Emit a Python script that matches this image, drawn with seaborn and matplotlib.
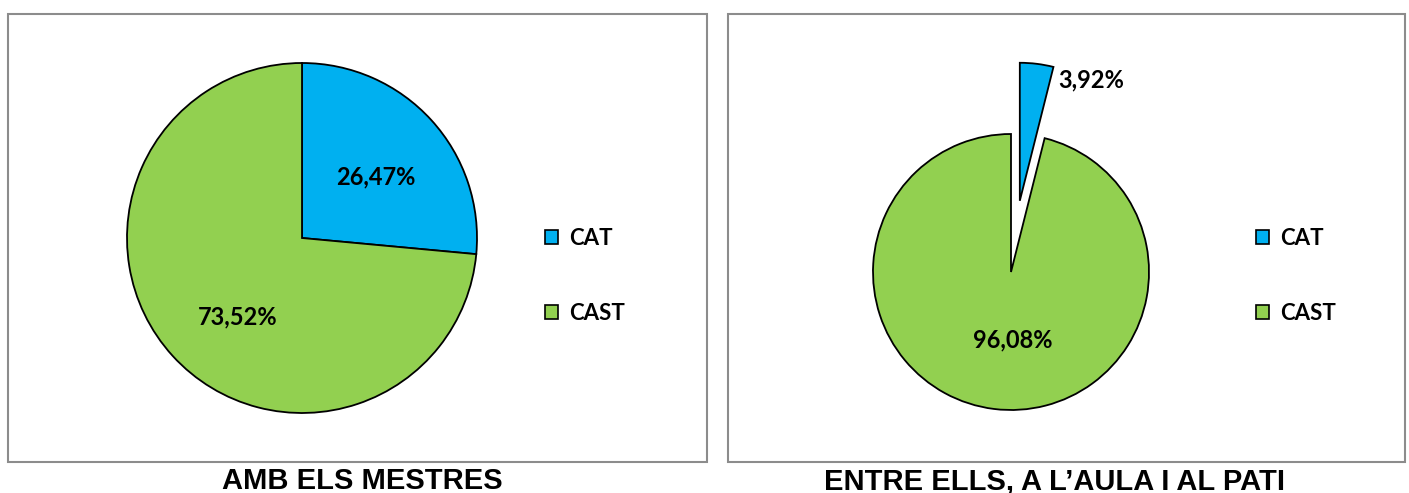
import matplotlib
matplotlib.use("Agg")
import matplotlib.pyplot as plt
import matplotlib.patches as mpatches
import seaborn as sns

sns.set_style("white")
plt.rcParams['font.family'] = ['Lato', 'DejaVu Sans']
plt.rcParams['text.color'] = 'black'

categories = ["CAT", "CAST"]
teachers = [26.47, 73.52]
peers = [3.92, 96.08]
titles = ["AMB ELS MESTRES", "ENTRE ELLS, A L\u2019AULA I AL PATI"]
colors = ["#00B0F0", "#92D050"]

# where the percentage labels sit, in pie-radius units from the centre
teachers_label_pos = [(0.42, 0.35), (-0.37, -0.45)]
peers_label_pos = [(0.58, 1.39), (0.01, -0.49)]

W, H = 1409, 493
fig = plt.figure(figsize=(W / 100, H / 100), dpi=100)


def px_axes(box):
    x0, y0, x1, y1 = box
    ax = fig.add_axes([x0 / W, 1 - y1 / H, (x1 - x0) / W, (y1 - y0) / H])
    return ax


def fit_limits(ax, box, cx, cy, r):
    # 1 data unit = pie radius in pixels, centred on the pie
    x0, y0, x1, y1 = box
    ax.set_aspect("auto")
    ax.set_xlim((x0 - cx) / r, (x1 - cx) / r)
    ax.set_ylim((cy - y1) / r, (cy - y0) / r)
    ax.axis("off")


def fmt(v):
    return f"{v:.2f}%".replace(".", ",")


left_box = (8, 14, 707, 462)
right_box = (728, 14, 1405, 462)

# panel frames
for (x0, y0, x1, y1) in [left_box, right_box]:
    fig.patches.append(mpatches.Rectangle((x0 / W, 1 - y1 / H), (x1 - x0) / W, (y1 - y0) / H,
                                          transform=fig.transFigure, fill=False,
                                          edgecolor="#8c8c8c", linewidth=1.5))

# left pie
ax1 = px_axes(left_box)
w1, t1, a1 = ax1.pie(teachers, colors=colors, startangle=90, counterclock=False,
                     autopct="%1.1f",
                     wedgeprops=dict(edgecolor="black", linewidth=1.3))
fit_limits(ax1, left_box, 302, 238, 175)
for at, v, p in zip(a1, teachers, teachers_label_pos):
    at.set_text(fmt(v))
    at.set_position(p)
    at.set_fontsize(17)
    at.set_fontweight("bold")

# right pie
ax2 = px_axes(right_box)
w2, t2, a2 = ax2.pie(peers, colors=colors, startangle=90, counterclock=False,
                     explode=[0.52, 0], autopct="%1.1f",
                     wedgeprops=dict(edgecolor="black", linewidth=1.3))
fit_limits(ax2, right_box, 1011, 272, 138)
for at, v, p in zip(a2, peers, peers_label_pos):
    at.set_text(fmt(v))
    at.set_position(p)
    at.set_fontsize(17)
    at.set_fontweight("bold")

# legends
handles = [mpatches.Patch(facecolor=c, edgecolor="black", linewidth=1.2, label=l)
           for c, l in zip(colors, categories)]
for lx in (545, 1256):
    fig.legend(handles=handles, loc="center left", bbox_to_anchor=(lx / W, 1 - 276 / H),
               frameon=False, borderpad=0, borderaxespad=0, labelspacing=2.45,
               handlelength=0.6, handleheight=0.6, handletextpad=0.5,
               prop=dict(family="Lato", weight="bold", size=16))

# titles below the panels
for cx, t in zip((362, 1054), titles):
    fig.text(cx / W, 1 - 481 / H, t, ha="center", va="center",
             fontsize=21, fontweight="bold", family="Liberation Sans")

fig.savefig("out.png", dpi=100)
